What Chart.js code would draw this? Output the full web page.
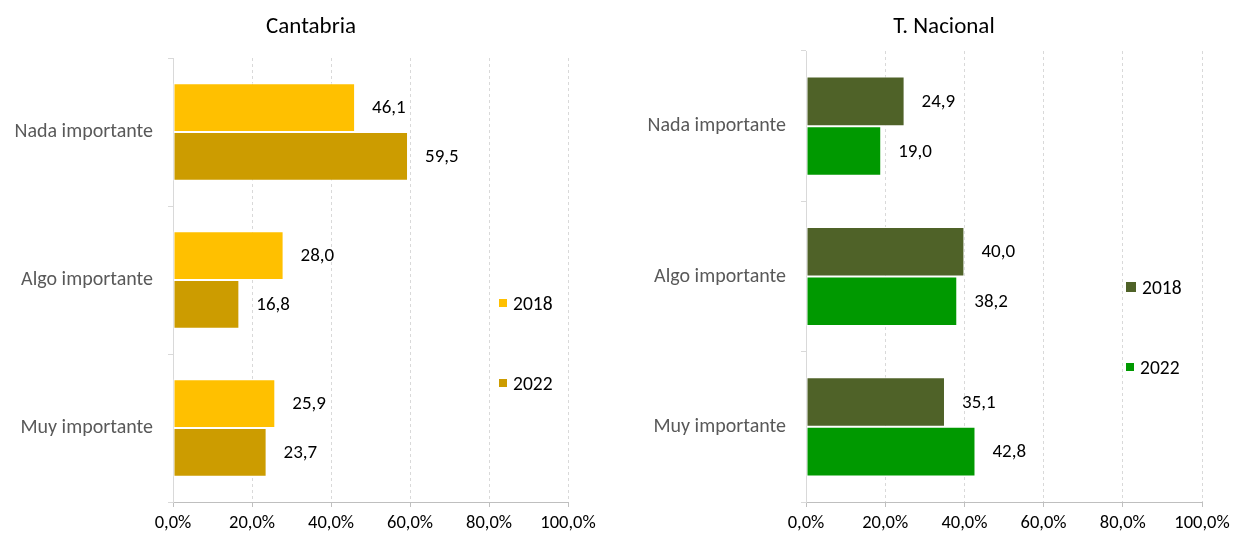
<!DOCTYPE html>
<html>
<head>
<meta charset="utf-8">
<script src="https://cdn.jsdelivr.net/npm/chart.js@4/dist/chart.umd.min.js"></script>
<style>
  html, body { margin: 0; padding: 0; background: #fff; }
  body { width: 1236px; height: 538px; position: relative; overflow: hidden; font-family: Carlito, Calibri, Lato, sans-serif; }
  .box { position: absolute; top: 0; width: 618px; height: 538px; }
  .title { position: absolute; top: 25px; font-size: 23px; color: #000; transform: translate(-50%, -50%); white-space: nowrap; }
  .leg { position: absolute; font-size: 19.5px; color: #000; display: flex; align-items: center; transform: translateY(-50%); }
  .leg span.sw { display: inline-block; margin-right: 6px; }
</style>
</head>
<body>
<div class="box" style="left:0"><canvas id="chartCant" width="618" height="538"></canvas></div>
<div class="box" style="left:618px"><canvas id="chartNac" width="618" height="538"></canvas></div>
<div class="title" style="left:311px">Cantabria</div>
<div class="title" style="left:944px">T. Nacional</div>
<div id="legCant"></div>
<div id="legNac"></div>
<script>
const categories = ['Nada importante', 'Algo importante', 'Muy importante'];
const years = ['2018', '2022'];
const cantabria2018 = [46.1, 28.0, 25.9];
const cantabria2022 = [59.5, 16.8, 23.7];
const nacional2018 = [24.9, 40.0, 35.1];
const nacional2022 = [19.0, 38.2, 42.8];
const xTicks = [0, 20, 40, 60, 80, 100];

const cantColors = ['#FFC000', '#CC9C00'];
const nacColors = ['#4F6228', '#009900'];
const FONT = 'Carlito, Calibri, Lato, sans-serif';

const fmt = (v, d) => v.toFixed(d).replace('.', ',');

const valueLabels = {
  id: 'valueLabels',
  afterDatasetsDraw(chart){
    const ctx = chart.ctx;
    ctx.save();
    ctx.font = '19px ' + FONT;
    ctx.fillStyle = '#000';
    ctx.textAlign = 'left';
    ctx.textBaseline = 'middle';
    chart.data.datasets.forEach((ds, i) => {
      chart.getDatasetMeta(i).data.forEach((bar, j) => {
        ctx.fillText(fmt(ds.data[j], 1), bar.x + 17, bar.y + 1);
      });
    });
    ctx.restore();
  }
};

function makeChart(id, d18, d22, colors, box){
  return new Chart(document.getElementById(id), {
    type: 'bar',
    data: {
      labels: categories,
      datasets: [
        { label: years[0], data: d18, backgroundColor: colors[0], borderColor: '#fff', borderWidth: 1, borderSkipped: false },
        { label: years[1], data: d22, backgroundColor: colors[1], borderColor: '#fff', borderWidth: 1, borderSkipped: false }
      ]
    },
    options: {
      indexAxis: 'y',
      responsive: false,
      animation: false,
      layout: { padding: { top: box.top, right: box.right, left: 0, bottom: 0 } },
      plugins: { legend: { display: false }, tooltip: { enabled: false } },
      datasets: { bar: { categoryPercentage: 0.66, barPercentage: 1 } },
      scales: {
        x: {
          min: 0, max: 100,
          afterBuildTicks: s => { s.ticks = xTicks.map(v => ({ value: v })); },
          afterFit: s => { s.height = 36; },
          ticks: { color: '#000', font: { size: 18.5, family: FONT }, padding: 5, callback: v => fmt(v, 1) + '%' },
          grid: { color: '#d9d9d9', tickColor: '#bfbfbf', tickLength: 5, tickBorderDash: [] },
          border: { display: true, color: '#bfbfbf', dash: [3, 3] }
        },
        y: {
          afterFit: s => { s.width = box.left; },
          ticks: { color: '#595959', font: { size: 20, family: FONT }, padding: 15 },
          grid: { offset: true, drawOnChartArea: false, tickLength: 5, tickColor: '#d9d9d9' },
          border: { display: true, color: '#d9d9d9' }
        }
      }
    },
    plugins: [valueLabels]
  });
}

makeChart('chartCant', cantabria2018, cantabria2022, cantColors, { left: 173, top: 58, right: 50 });
makeChart('chartNac', nacional2018, nacional2022, nacColors, { left: 188, top: 51, right: 34 });

function legend(id, colors, x, ys, sw){
  const el = document.getElementById(id);
  years.forEach((y, i) => {
    const d = document.createElement('div');
    d.className = 'leg';
    d.style.left = x + 'px';
    d.style.top = ys[i] + 'px';
    d.innerHTML = '<span class="sw" style="background:' + colors[i] + ';width:' + sw[i] + 'px;height:' + sw[i] + 'px"></span>' + y;
    el.appendChild(d);
  });
}
legend('legCant', cantColors, 499, [303, 383], [8, 8]);
legend('legNac', nacColors, 1126, [287, 367], [10, 8]);
</script>
</body>
</html>
